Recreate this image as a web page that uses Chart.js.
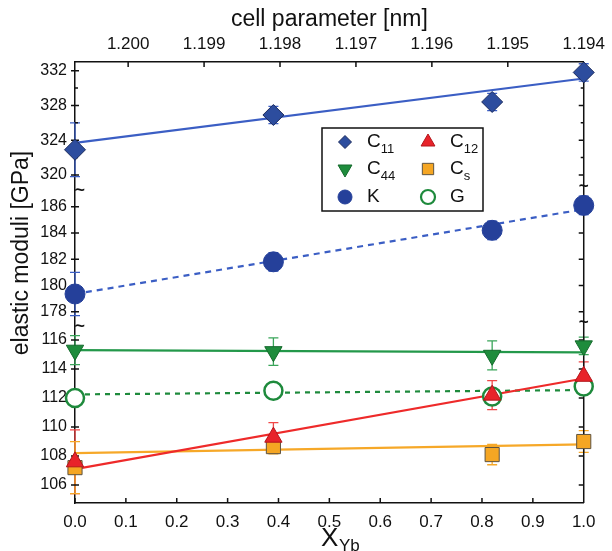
<!DOCTYPE html>
<html>
<head>
<meta charset="utf-8">
<title>Elastic moduli vs Yb content</title>
<script src="https://cdn.jsdelivr.net/npm/chart.js@4.4.0/dist/chart.umd.min.js"></script>
<style>
  html, body { margin: 0; padding: 0; background: #fff; }
  #wrap { width: 612px; height: 551px; }
</style>
</head>
<body>
<div id="wrap"><canvas id="moduliChart" width="612" height="551"></canvas></div>
<script>
// Yb fraction of the measured samples
const xYb = [0, 0.39, 0.82, 1.0];
const fitX = [0, 1];

// elastic moduli [GPa], error bars and linear fits
const c11 = [322.9, 326.9, 328.4, 331.8];
const c11Err = [3.1, 1.0, 1.0, 1.0];
const c11Fit = [323.7, 331.1];

const c12 = [107.6, 109.3, 112.2, 113.5];
const c12Err = [2.2, 1.0, 1.0, 1.0];
const c12Fit = [107.1, 113.35];

const c44 = [115.3, 115.2, 114.95, 115.6];
const c44Err = [1.0, 0.95, 1.0, 0.6];
const c44Fit = [115.3, 115.15];

const cs = [107.2, 108.65, 108.1, 109.0];
const csErr = [1.8, 0.5, 0.7, 0.75];
const csFit = [108.2, 108.8];

const bulkK = [179.35, 181.8, 184.2, 186.1];
const bulkKErr = [1.65, 0.7, 0.7, 0.7];
const bulkKFit = [179.35, 185.8];

const shearG = [112.0, 112.5, 112.1, 112.8];
const shearGErr = [0.3, 0.3, 0.3, 0.3];
const shearGFit = [112.25, 112.55];

// top axis: lattice parameter
const cellTicks = [1.200, 1.199, 1.198, 1.197, 1.196, 1.195, 1.194];
const cellRange = [1.194, 1.2007];

// broken y axis, three segments
const topTicks = [320, 324, 328, 332];
const topMinor = [322, 326, 330];
const topRange = [318.27, 333.0];
const midTicks = [178, 180, 182, 184, 186];
const midRange = [176.91, 187.27];
const lowTicks = [106, 108, 110, 112, 114, 116];
const lowRange = [104.76, 116.97];

const FONT = "'Liberation Sans', Arial, sans-serif";
Chart.defaults.font.family = FONT;
Chart.defaults.color = '#111';

const series = [
    { name: 'C', sub: '11', vals: c11, err: c11Err, fit: c11Fit, axis: 'yTop', shape: 'rectRot', rot: 0, r: 10.5,
      fill: '#2d4d9e', edge: '#1c2c5e', line: '#3b5ec4', bar: '#3b5ec4', dash: [] },
    { name: 'C', sub: '12', vals: c12, err: c12Err, fit: c12Fit, axis: 'yLow', shape: 'triangle', rot: 0, r: 10,
      fill: '#e8232a', edge: '#b3161b', line: '#ee2a2a', bar: '#f04848', dash: [] },
    { name: 'C', sub: '44', vals: c44, err: c44Err, fit: c44Fit, axis: 'yLow', shape: 'triangle', rot: 180, r: 10,
      fill: '#1e8c3c', edge: '#146a2c', line: '#23984a', bar: '#3aa55a', dash: [] },
    { name: 'C', sub: 's', vals: cs, err: csErr, fit: csFit, axis: 'yLow', shape: 'rect', rot: 0, r: 10,
      fill: '#f5a623', edge: '#5e5340', line: '#f6a828', bar: '#f6a828', dash: [] },
    { name: 'K', sub: '', vals: bulkK, err: bulkKErr, fit: bulkKFit, axis: 'yMid', shape: 'circle', rot: 0, r: 10,
      fill: '#25409a', edge: '#25409a', line: '#3b5ec4', bar: '#3b5ec4', dash: [6, 5] },
    { name: 'G', sub: '', vals: shearG, err: shearGErr, fit: shearGFit, axis: 'yLow', shape: 'circle', rot: 0, r: 9,
      fill: '#ffffff', edge: '#1e8a3c', line: '#1e8a3c', bar: '#1e8a3c', dash: [5, 5], bw: 2.5 }
];

const datasets = [];
series.forEach(s => {
    datasets.push({
        type: 'line',
        data: fitX.map((x, i) => ({ x: x, y: s.fit[i] })),
        yAxisID: s.axis,
        borderColor: s.line,
        borderWidth: 2.2,
        borderDash: s.dash,
        pointRadius: 0,
        showLine: true,
        order: 2,
        clip: false
    });
    datasets.push({
        type: 'scatter',
        data: xYb.map((x, i) => ({ x: x, y: s.vals[i] })),
        yAxisID: s.axis,
        pointStyle: s.shape,
        rotation: s.rot,
        pointRadius: s.r,
        backgroundColor: s.fill,
        borderColor: s.edge,
        borderWidth: s.bw || 1,
        order: 0,
        clip: false
    });
});

function fixedTicks(list) {
    return function(scale) {
        scale.ticks = list.map(v => ({ value: v }));
    };
}

function segmentAxis(range, ticks, weight, stackWeight) {
    return {
        type: 'linear',
        position: 'left',
        stack: 'moduli',
        stackWeight: stackWeight,
        weight: weight,
        min: range[0],
        max: range[1],
        afterBuildTicks: fixedTicks(ticks),
        afterFit: function(scale) { scale.width = 75; },
        ticks: { font: { size: 16 }, padding: 8, autoSkip: false },
        grid: { display: false, drawTicks: false },
        border: { color: '#111', width: 1.5 }
    };
}

function drawMarker(ctx, s, x, y, r) {
    ctx.save();
    ctx.fillStyle = s.fill;
    ctx.strokeStyle = s.edge;
    ctx.lineWidth = s.bw || 1;
    ctx.translate(x, y);
    ctx.rotate(s.rot * Math.PI / 180);
    ctx.beginPath();
    if (s.shape === 'circle') {
        ctx.arc(0, 0, r, 0, 2 * Math.PI);
    } else if (s.shape === 'rect') {
        const h = r * Math.SQRT1_2;
        ctx.rect(-h, -h, 2 * h, 2 * h);
    } else if (s.shape === 'rectRot') {
        ctx.moveTo(0, -r); ctx.lineTo(r, 0); ctx.lineTo(0, r); ctx.lineTo(-r, 0);
        ctx.closePath();
    } else {
        for (let k = 0; k < 3; k++) {
            const a = k * 2 * Math.PI / 3;
            const px = Math.sin(a) * r, py = -Math.cos(a) * r;
            if (k === 0) ctx.moveTo(px, py); else ctx.lineTo(px, py);
        }
        ctx.closePath();
    }
    ctx.fill();
    ctx.stroke();
    ctx.restore();
}

// error bars with caps, drawn under the lines and markers
const errorBars = {
    id: 'errorBars',
    beforeDatasetsDraw(chart) {
        const ctx = chart.ctx;
        const xs = chart.scales.x;
        series.forEach(s => {
            const ys = chart.scales[s.axis];
            ctx.save();
            ctx.strokeStyle = s.bar;
            ctx.lineWidth = 1.3;
            ctx.beginPath();
            s.vals.forEach((v, i) => {
                const px = xs.getPixelForValue(xYb[i]);
                const top = ys.getPixelForValue(v + s.err[i]);
                const bot = ys.getPixelForValue(v - s.err[i]);
                ctx.moveTo(px, top); ctx.lineTo(px, bot);
                ctx.moveTo(px - 5, top); ctx.lineTo(px + 5, top);
                ctx.moveTo(px - 5, bot); ctx.lineTo(px + 5, bot);
            });
            ctx.stroke();
            ctx.restore();
        });
    }
};

// right axis, inward ticks and the break marks
const frame = {
    id: 'frame',
    beforeDatasetsDraw(chart) {
        const { ctx, chartArea: a, scales } = chart;
        ctx.save();
        ctx.strokeStyle = '#111';
        ctx.lineWidth = 1.5;
        ctx.beginPath();
        ctx.moveTo(a.right, a.top);
        ctx.lineTo(a.right, a.bottom);
        ['yTop', 'yMid', 'yLow'].forEach(id => {
            const s = scales[id];
            s.ticks.forEach(t => {
                const py = s.getPixelForValue(t.value);
                ctx.moveTo(a.left - 4, py); ctx.lineTo(a.left + 4, py);
                ctx.moveTo(a.right - 5, py); ctx.lineTo(a.right, py);
            });
        });
        topMinor.forEach(v => {
            const py = scales.yTop.getPixelForValue(v);
            ctx.moveTo(a.left, py); ctx.lineTo(a.left + 3, py);
            ctx.moveTo(a.right - 3, py); ctx.lineTo(a.right, py);
        });
        scales.x.ticks.forEach(t => {
            const px = scales.x.getPixelForValue(t.value);
            ctx.moveTo(px, a.bottom); ctx.lineTo(px, a.bottom - 5);
        });
        scales.x2.ticks.forEach(t => {
            const px = scales.x2.getPixelForValue(t.value);
            ctx.moveTo(px, a.top); ctx.lineTo(px, a.top + 5);
        });
        ctx.stroke();

        ctx.fillStyle = '#111';
        ctx.font = 'bold 17px ' + FONT;
        ctx.textAlign = 'center';
        ctx.textBaseline = 'middle';
        [scales.yTop.bottom, scales.yMid.bottom].forEach(by => {
            ctx.fillText('~', a.left + 5, by);
            ctx.fillText('~', a.right, by - 4);
        });
        ctx.restore();
    }
};

// axis titles and the legend box
const annotations = {
    id: 'annotations',
    afterDraw(chart) {
        const ctx = chart.ctx;
        ctx.save();
        ctx.fillStyle = '#111';

        // y title
        ctx.save();
        ctx.translate(22, 253);
        ctx.rotate(-Math.PI / 2);
        ctx.font = '23px ' + FONT;
        ctx.textAlign = 'center';
        ctx.textBaseline = 'middle';
        ctx.fillText('elastic moduli [GPa]', 0, 0);
        ctx.restore();

        // x title with subscript
        ctx.textAlign = 'left';
        ctx.textBaseline = 'alphabetic';
        ctx.font = '26px ' + FONT;
        ctx.fillText('X', 321, 546);
        ctx.font = '17px ' + FONT;
        ctx.fillText('Yb', 339, 551);

        // legend
        const bx = 322, by = 128, bw = 161, bh = 83;
        ctx.fillStyle = '#fff';
        ctx.fillRect(bx, by, bw, bh);
        ctx.strokeStyle = '#111';
        ctx.lineWidth = 1.5;
        ctx.strokeRect(bx, by, bw, bh);
        const colX = [345, 428];
        const rowY = [142, 169, 197];
        series.forEach((s, k) => {
            const cx = colX[k % 2];
            const cy = rowY[Math.floor(k / 2)];
            const r = s.shape === 'rectRot' ? 6.5 : (s.shape === 'circle' ? 7 : 8);
            drawMarker(ctx, Object.assign({}, s, { bw: s.bw ? 2.2 : 1 }), cx, cy, r);
            ctx.fillStyle = '#111';
            ctx.font = '19px ' + FONT;
            ctx.textBaseline = 'middle';
            ctx.fillText(s.name, cx + 22, cy);
            if (s.sub) {
                const w = ctx.measureText(s.name).width;
                ctx.font = '13px ' + FONT;
                ctx.fillText(s.sub, cx + 22 + w, cy + 7);
            }
        });
        ctx.restore();
    }
};

new Chart(document.getElementById('moduliChart'), {
    type: 'scatter',
    data: { datasets: datasets },
    options: {
        responsive: false,
        animation: false,
        devicePixelRatio: 1,
        layout: { padding: { left: 0, right: 15, top: 0, bottom: 0 } },
        plugins: {
            legend: { display: false },
            tooltip: { enabled: false }
        },
        scales: {
            x: {
                type: 'linear',
                position: 'bottom',
                min: 0,
                max: 1,
                ticks: { stepSize: 0.1, font: { size: 17 }, padding: 9, autoSkip: false, callback: v => v.toFixed(1) },
                grid: { display: false, drawTicks: false },
                border: { color: '#111', width: 1.5 },
                afterFit: function(scale) { scale.height = 48; }
            },
            x2: {
                type: 'linear',
                position: 'top',
                reverse: true,
                min: cellRange[0],
                max: cellRange[1],
                afterBuildTicks: fixedTicks(cellTicks),
                ticks: { font: { size: 17 }, padding: 7, autoSkip: false, callback: v => v.toFixed(3) },
                title: { display: true, text: 'cell parameter [nm]', font: { size: 23 }, padding: { top: 6, bottom: 0 } },
                grid: { display: false, drawTicks: false },
                border: { color: '#111', width: 1.5 },
                afterFit: function(scale) { scale.height = 62; }
            },
            yLow: segmentAxis(lowRange, lowTicks, 1, 177),
            yMid: segmentAxis(midRange, midTicks, 2, 136),
            yTop: segmentAxis(topRange, topTicks, 3, 128)
        }
    },
    plugins: [errorBars, frame, annotations]
});
</script>
</body>
</html>
